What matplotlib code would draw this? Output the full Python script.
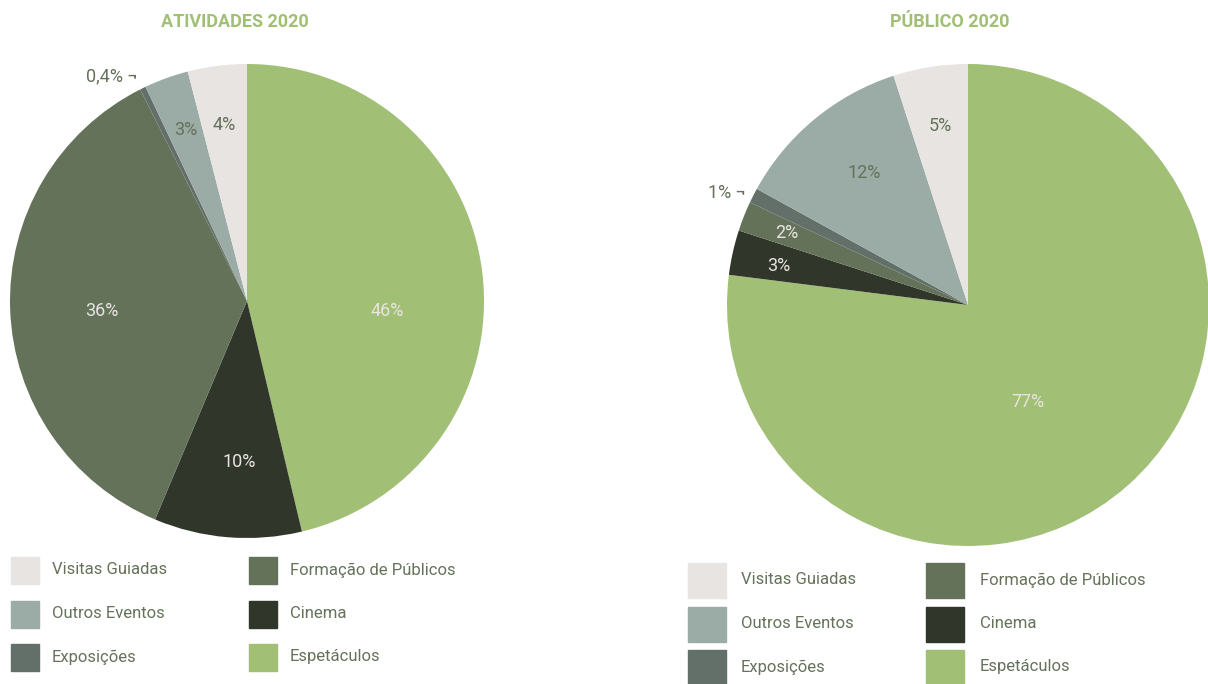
import matplotlib.pyplot as plt
from matplotlib.patches import Rectangle

# slice order as drawn, clockwise from the top
categories = ["Espetáculos", "Cinema", "Formação de Públicos", "Exposições",
              "Outros Eventos", "Visitas Guiadas"]
atividades = [46, 10, 36, 0.4, 3, 4]
atividades_lbl = ["46%", "10%", "36%", "0,4% ¬", "3%", "4%"]
publico = [77, 3, 2, 1, 12, 5]
publico_lbl = ["77%", "3%", "2%", "1% ¬", "12%", "5%"]

legend_col1 = ["Visitas Guiadas", "Outros Eventos", "Exposições"]
legend_col2 = ["Formação de Públicos", "Cinema", "Espetáculos"]

colors = {
    "Espetáculos": "#a1bf75",
    "Cinema": "#31362a",
    "Formação de Públicos": "#65725a",
    "Exposições": "#63706a",
    "Outros Eventos": "#9baba6",
    "Visitas Guiadas": "#e8e4e1",
}
dark_txt = "#65725a"
light_txt = "#e8e4e1"
title_col = "#a1bf75"

plt.rcParams['font.family'] = ['Roboto', 'DejaVu Sans']

W, H = 1208, 684
fig = plt.figure(figsize=(W / 100, H / 100), dpi=100)


def pie_axes(cx, cy, r):
    ax = fig.add_axes([(cx - r) / W, 1 - (cy + r) / H, 2 * r / W, 2 * r / H])
    return ax


def draw_pie(ax, values, labels, label_pos, label_cols):
    ax.pie(values, colors=[colors[c] for c in categories], startangle=90,
           counterclock=False, radius=1, wedgeprops=dict(linewidth=0))
    ax.set_xlim(-1, 1)
    ax.set_ylim(-1, 1)
    ax.set_aspect('equal')
    ax.axis('off')
    for lbl, (x, y), c in zip(labels, label_pos, label_cols):
        ax.text(x, y, lbl, ha='center', va='center', fontsize=13, color=c)


# left pie
ax1 = pie_axes(247, 301, 237)
pos1 = [(0.591, -0.042), (-0.034, -0.679), (-0.612, -0.042),
        (-0.57, 0.949), (-0.257, 0.722), (-0.097, 0.743)]
cols1 = [light_txt, light_txt, light_txt, dark_txt, dark_txt, dark_txt]
draw_pie(ax1, atividades, atividades_lbl, pos1, cols1)

# right pie
ax2 = pie_axes(968, 305, 241)
pos2 = [(0.249, -0.402), (-0.784, 0.162), (-0.751, 0.299),
        (-1.0, 0.465), (-0.432, 0.548), (-0.116, 0.743)]
cols2 = [light_txt, light_txt, light_txt, dark_txt, dark_txt, dark_txt]
draw_pie(ax2, publico, publico_lbl, pos2, cols2)

fig.text(235 / W, 1 - 22 / H, "ATIVIDADES 2020", ha='center', va='center',
         fontsize=13, fontweight='bold', color=title_col)
fig.text(950 / W, 1 - 22 / H, "PÚBLICO 2020", ha='center', va='center',
         fontsize=13, fontweight='bold', color=title_col)


def legend(x_boxes, x_texts, ys, box_w, box_h):
    for col, xb, xt in zip([legend_col1, legend_col2], x_boxes, x_texts):
        for name, y in zip(col, ys):
            fig.patches.append(Rectangle((xb / W, 1 - (y + box_h / 2) / H),
                                         box_w / W, box_h / H,
                                         transform=fig.transFigure,
                                         color=colors[name]))
            fig.text(xt / W, 1 - y / H, name, ha='left', va='center',
                     fontsize=12, color=dark_txt)


legend([11, 249], [52, 290], [570, 614, 657], 28, 27)
legend([688, 926], [741, 980], [580, 624, 667], 38, 35)

fig.savefig("out.png", dpi=100)
